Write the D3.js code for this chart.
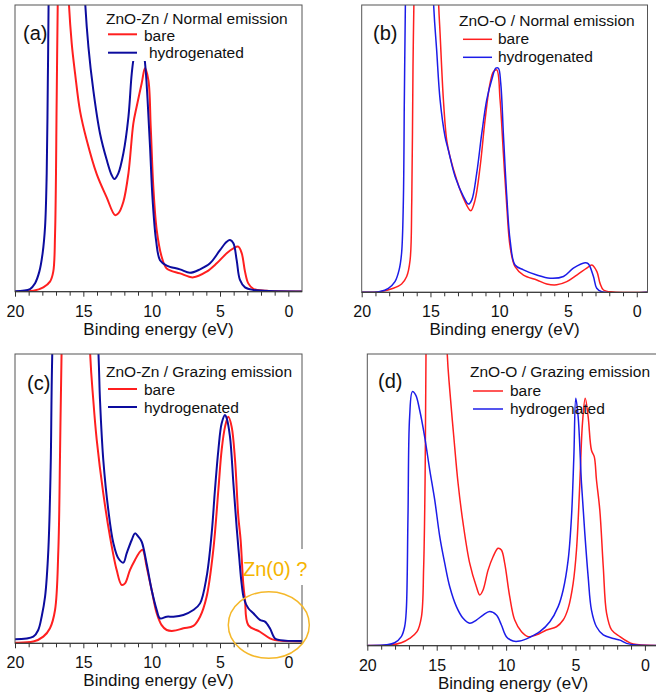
<!DOCTYPE html>
<html><head><meta charset="utf-8">
<script src="https://cdn.jsdelivr.net/npm/d3@7/dist/d3.min.js"></script>
<style>
html,body{margin:0;padding:0;background:#fff;}
svg{display:block;font-family:"Liberation Sans",Arial,Helvetica,sans-serif;}
</style></head>
<body>
<svg id="chart" width="656" height="698"></svg>
<script>
// ---------- data (binding energy in eV, intensity in % of panel height) ----------
const majorTicks = [20, 15, 10, 5, 0];
const axisTitle = "Binding energy (eV)";
const seriesNames = ["bare", "hydrogenated"];
const panelLabels = ["(a)", "(b)", "(c)", "(d)"];
const panelTitles = ["ZnO-Zn / Normal emission", "ZnO-O / Normal emission", "ZnO-Zn / Grazing emission", "ZnO-O / Grazing emission"];
const annotationText = "Zn(0) ?";

const aBareE = [20, 18.66, 17.93, 17.44, 17.2, 17.07, 16.95, 16.85, 16.5, 16.1, 15.85, 15.6, 15.24, 14.76, 14.02, 13.3, 12.68, 12.44, 12.07, 11.7, 11.34, 11.1, 10.73, 10.49, 10.24, 10.07, 9.88, 9.63, 9.27, 8.9, 7.93, 6.95, 5.98, 5.24, 4.51, 4.02, 3.66, 3.41, 3.17, 2.93, 2.56, 1.6, -1];
const aBareI = [0, 0.3, 1.5, 3.5, 7, 20, 67, 110, 200, 105, 86.6, 76, 63, 53, 41, 33, 26.7, 27.3, 31.4, 41.3, 58.7, 64.5, 72.7, 77.9, 73.8, 57.6, 36.6, 21.5, 12.2, 8.1, 6.4, 5, 7, 9.9, 13.4, 15.1, 15.7, 13.4, 7, 2.9, 1, 0.35, 0.1];
const aHydE = [20, 18.9, 18.54, 18.22, 17.98, 17.8, 17.68, 17.6, 17.54, 17.2, 14.88, 14.63, 14.27, 13.78, 13.29, 12.93, 12.73, 12.44, 12.07, 11.7, 11.46, 11.29, 10.8, 10.49, 10.3, 10.12, 9.93, 9.68, 9.39, 8.9, 7.93, 7.2, 6.46, 5.73, 5.0, 4.51, 4.27, 4.02, 3.78, 3.54, 3.17, 2.56, -1];
const aHydI = [0.2, 0.9, 2.9, 7, 13.4, 22.7, 41.3, 72.7, 102, 400, 102, 85.5, 70.3, 55.2, 46, 40.7, 39.3, 41.3, 48.3, 61, 76, 82, 90, 80, 67, 50.6, 32, 18, 11, 9.1, 7.8, 6.6, 7.8, 9.9, 14.5, 17.4, 18, 16.9, 11, 4.1, 1.5, 0.6, 0.1];

const bBareE = [20, 18.67, 17.7, 17.1, 16.73, 16.48, 16.36, 16.27, 16.2, 15.5, 14.42, 14.3, 14.06, 13.82, 13.58, 13.09, 12.6, 12.07, 11.76, 11.39, 11.03, 10.67, 10.42, 10.18, 9.94, 9.7, 9.45, 9.21, 8.85, 8.24, 7.27, 6.55, 5.82, 5.09, 4.36, 3.64, 3.27, 2.9, 2.67, 2.42, 1.7, -0.78];
const bBareI = [0, 0.2, 1.4, 2.9, 5.5, 11.3, 32, 78.5, 102, 300, 102, 90, 67, 53, 47.2, 39.1, 32.7, 28.4, 32.1, 43.7, 60, 72.7, 76.8, 77.4, 67, 48.4, 29.8, 15.9, 8.9, 6, 4.3, 2.9, 2.6, 3.7, 6, 8.4, 9.5, 7.2, 3.1, 0.8, 0.1, 0.05];
const bHydE = [20, 18.67, 18.06, 17.58, 17.28, 17.1, 16.97, 16.9, 16.82, 16.2, 14.79, 14.55, 14.3, 13.94, 13.7, 13.21, 12.6, 12.24, 12.0, 11.64, 11.27, 10.91, 10.55, 10.25, 10.06, 9.89, 9.7, 9.45, 9.21, 8.85, 8.24, 7.27, 6.3, 5.33, 4.61, 3.76, 3.52, 3.15, 2.91, 2.55, -0.78];
const bHydI = [0, 0.3, 1.4, 3.7, 7.8, 13.6, 32, 67, 102, 350, 102, 84.3, 67, 54.2, 49.5, 40.3, 33.3, 30.7, 32.1, 41.4, 55.3, 67, 73.9, 78, 78, 72.7, 55.3, 33.3, 18.2, 9.5, 7.8, 6, 4.9, 5.5, 8.4, 10.3, 9.9, 5.5, 1.4, 0.2, 0.05];

const cBareE = [20, 18.66, 17.93, 17.44, 17.07, 16.83, 16.7, 16.59, 15.5, 14.51, 14.27, 14.02, 13.54, 13.05, 12.56, 12.2, 11.95, 11.59, 11.22, 10.85, 10.66, 10.37, 10.0, 9.63, 9.27, 8.9, 8.41, 7.68, 6.95, 6.46, 5.98, 5.49, 5.12, 4.88, 4.63, 4.39, 4.15, 3.9, 3.66, 3.49, 3.3, 3.17, 2.93, 2.08, 1.35, 0.98, -1];
const cBareI = [0.2, 0.6, 2.3, 5.2, 11.5, 32, 67, 101, 300, 101, 84, 70.3, 51.8, 36.9, 25.3, 20.2, 20.7, 25.3, 28.8, 31.7, 32.3, 26.5, 18.4, 10.4, 6.3, 4.6, 4.3, 5.2, 6, 9.2, 16.1, 32.3, 53, 66.8, 74.9, 78.3, 74.9, 63.4, 43.8, 35.7, 20.7, 15, 6.3, 4, 1.7, 1.1, 0.6];
const cHydE = [20, 18.66, 18.3, 18.05, 17.8, 17.56, 17.39, 17.27, 16.0, 13.9, 13.78, 13.54, 13.17, 12.8, 12.44, 12.07, 11.83, 11.46, 11.22, 10.98, 10.73, 10.37, 10.0, 9.63, 9.39, 8.9, 8.41, 7.68, 6.95, 6.46, 5.98, 5.61, 5.37, 5.12, 4.88, 4.63, 4.51, 4.27, 4.02, 3.78, 3.6, 3.42, 3.25, 2.93, 2.56, 2.08, 1.71, 1.35, 0.98, 0.6, -1];
const cHydI = [1.4, 2.3, 4.6, 9.2, 16.1, 32.3, 61, 101, 300, 101, 84, 63.4, 46, 34.6, 29.4, 27.9, 31.1, 35.7, 38, 36.9, 35.1, 27.6, 18.4, 11.5, 8.6, 9.2, 9.2, 9.8, 11.5, 13.8, 23, 38, 53, 66.8, 76, 78.9, 77.8, 71.4, 55.3, 40, 30, 20.7, 15.5, 12.1, 10.4, 8.1, 7.5, 5.2, 1.7, 1.1, 0.8];

const dBareE = [20, 18.39, 17.55, 16.95, 16.42, 16.1, 15.94, 15.84, 15.77, 15.0, 14.25, 14.06, 13.77, 13.46, 13.1, 12.62, 12.14, 11.9, 11.66, 11.3, 10.94, 10.58, 10.34, 10.1, 9.74, 9.38, 8.89, 8.41, 7.81, 7.09, 6.37, 5.89, 5.53, 5.17, 4.93, 4.69, 4.5, 4.3, 4.09, 3.85, 3.65, 3.49, 3.25, 3.0, 2.76, 2.4, 1.8, 1.32, 0.84, -1];
const dBareI = [0.1, 0.2, 1, 2.5, 4.8, 9.9, 27, 55.7, 101, 300, 101, 87.7, 71.7, 55.7, 42, 28.2, 20.2, 17.4, 19.1, 25.9, 30.5, 33.4, 32.8, 28.2, 16.8, 8.8, 4.8, 3.1, 3.7, 5.4, 6.5, 8.8, 12.8, 21.4, 32.8, 55.7, 76.2, 84.8, 78.5, 67, 64.8, 56.8, 46.5, 27, 11.1, 5.4, 3.1, 1.6, 0.6, 0.1];
const dHydE = [20, 18.63, 18.03, 17.55, 17.31, 17.19, 17.07, 16.95, 16.75, 16.51, 16.23, 15.87, 15.5, 15.14, 14.78, 14.42, 14.06, 13.58, 13.1, 12.62, 12.14, 11.66, 11.18, 10.7, 10.34, 9.98, 9.5, 9.01, 8.29, 7.57, 6.85, 6.25, 5.89, 5.53, 5.29, 5.12, 4.98, 4.81, 4.57, 4.33, 4.09, 3.85, 3.49, 3.0, 2.28, 1.8, 1.32, 0.6, -1];
const dHydI = [0.1, 0.3, 1, 3.1, 6.5, 12.2, 44.2, 78.5, 87.1, 85.9, 80.8, 71.7, 60.2, 49.9, 37.4, 28.2, 20.2, 13.4, 9.4, 7.7, 8.8, 10.5, 11.7, 10.5, 7.1, 3.1, 1.6, 1.6, 2.9, 4.8, 8.2, 13.4, 19.1, 29.4, 44.2, 64.8, 84.8, 78.5, 55.7, 38.5, 23.7, 12.2, 6.5, 3.7, 2.5, 1.9, 0.8, 0.2, 0.1];

// ---------- layout ----------
const svg = d3.select("#chart");
const RED = "#ff1f1f";
const panels = [
  {x0: 15, x1: 302, top: 5, bottom: 291.7, eMin: -1, bare: [aBareE, aBareI], hyd: [aHydE, aHydI], blue: "#0c0c9e", lw: 2,
   label: [23, 40], title: [106, 24], legX: [108, 137, 144, 149], legY: [34.3, 52.7, 40.7, 58.2], mask: [100, 5, 202, 56]},
  {x0: 361.7, x1: 647.5, top: 5, bottom: 292.3, eMin: -0.78, bare: [bBareE, bBareI], hyd: [bHydE, bHydI], blue: "#1c1ce8", lw: 1.5,
   label: [373, 40], title: [459, 26], legX: [463, 492, 498, 498], legY: [39.3, 57.3, 43.5, 62]},
  {x0: 15, x1: 302, top: 354, bottom: 643.3, eMin: -1, bare: [cBareE, cBareI], hyd: [cHydE, cHydI], blue: "#0c0c9e", lw: 2,
   label: [27, 390], title: [106, 377], legX: [108, 137, 144, 144], legY: [389, 407, 394.5, 412.5]},
  {x0: 367.3, x1: 658.8, top: 354, bottom: 645.7, eMin: -1, bare: [dBareE, dBareI], hyd: [dHydE, dHydI], blue: "#1c1ce8", lw: 1.5,
   label: [378, 388], title: [470, 377], legX: [473, 503, 510, 510], legY: [391, 409, 395.5, 413.5]}
];

panels.forEach((p, i) => {
  const g = svg.append("g");
  const x = d3.scaleLinear().domain([20, p.eMin]).range([p.x0, p.x1]);
  const y = d3.scaleLinear().domain([0, 100]).range([p.bottom, p.top]);
  const clipId = "clip" + i;
  svg.append("clipPath").attr("id", clipId).append("rect")
    .attr("x", p.x0).attr("y", p.top).attr("width", p.x1 - p.x0).attr("height", p.bottom - p.top);

  const line = d3.line().x(d => x(d[0])).y(d => y(d[1])).curve(d3.curveCatmullRom.alpha(0.5));
  const plot = g.append("g").attr("clip-path", `url(#${clipId})`);
  [[p.bare, RED], [p.hyd, p.blue]].forEach(([s, col]) => {
    const pts = s[0].map((e, k) => [e, s[1][k]]);
    plot.append("path").attr("d", line(pts)).attr("fill", "none")
      .attr("stroke", col).attr("stroke-width", p.lw).attr("stroke-linejoin", "round");
  });

  if (p.mask) {
    g.append("rect").attr("x", p.mask[0]).attr("y", p.mask[1]).attr("width", p.mask[2]).attr("height", p.mask[3]).attr("fill", "#fff");
  }

  // frame
  g.append("rect").attr("x", p.x0).attr("y", p.top).attr("width", p.x1 - p.x0).attr("height", p.bottom - p.top)
    .attr("fill", "none").attr("stroke", "#555").attr("stroke-width", 1);

  // axis
  const minor = d3.range(0, 21).filter(v => majorTicks.indexOf(v) < 0);
  const axMinor = g.append("g").attr("transform", `translate(0,${p.bottom})`)
    .call(d3.axisBottom(x).tickValues(minor).tickSize(4).tickFormat(""));
  const axMajor = g.append("g").attr("transform", `translate(0,${p.bottom})`)
    .call(d3.axisBottom(x).tickValues(majorTicks).tickSize(5).tickPadding(8.6).tickFormat(d3.format("d")));
  [axMinor, axMajor].forEach(a => {
    a.select(".domain").remove();
    a.selectAll("line").attr("stroke", "#333");
  });
  axMajor.selectAll("text").attr("font-size", 16).attr("fill", "#111")
    .attr("font-family", '"Liberation Sans",Arial,sans-serif');
  g.append("line").attr("x1", p.x0).attr("x2", p.x1).attr("y1", p.bottom).attr("y2", p.bottom)
    .attr("stroke", "#333").attr("stroke-width", 1);

  g.append("text").attr("x", (p.x0 + p.x1) / 2).attr("y", p.bottom + 43).attr("text-anchor", "middle")
    .attr("font-size", 17).attr("fill", "#111").text(axisTitle);

  // labels & legend
  g.append("text").attr("x", p.label[0]).attr("y", p.label[1]).attr("font-size", 20).attr("fill", "#111").text(panelLabels[i]);
  g.append("text").attr("x", p.title[0]).attr("y", p.title[1]).attr("font-size", 15.5).attr("fill", "#111").text(panelTitles[i]);
  [[RED, seriesNames[0], 0], [p.blue, seriesNames[1], 1]].forEach(([col, name, k]) => {
    g.append("line").attr("x1", p.legX[0]).attr("x2", p.legX[1]).attr("y1", p.legY[k]).attr("y2", p.legY[k])
      .attr("stroke", col).attr("stroke-width", p.lw);
    g.append("text").attr("x", p.legX[2 + k]).attr("y", p.legY[2 + k]).attr("font-size", 15.5).attr("fill", "#111").text(name);
  });

  if (i === 2) {
    g.append("rect").attr("x", 296).attr("y", 549).attr("width", 14).attr("height", 36).attr("fill", "#fff");
    g.append("text").attr("x", 243).attr("y", 576).attr("font-size", 20).attr("fill", "#f5b400").text(annotationText);
    g.append("ellipse").attr("cx", 268.8).attr("cy", 625).attr("rx", 40.5).attr("ry", 33.3)
      .attr("fill", "none").attr("stroke", "#f5b82a").attr("stroke-width", 1.5);
  }
});
</script>
</body></html>
